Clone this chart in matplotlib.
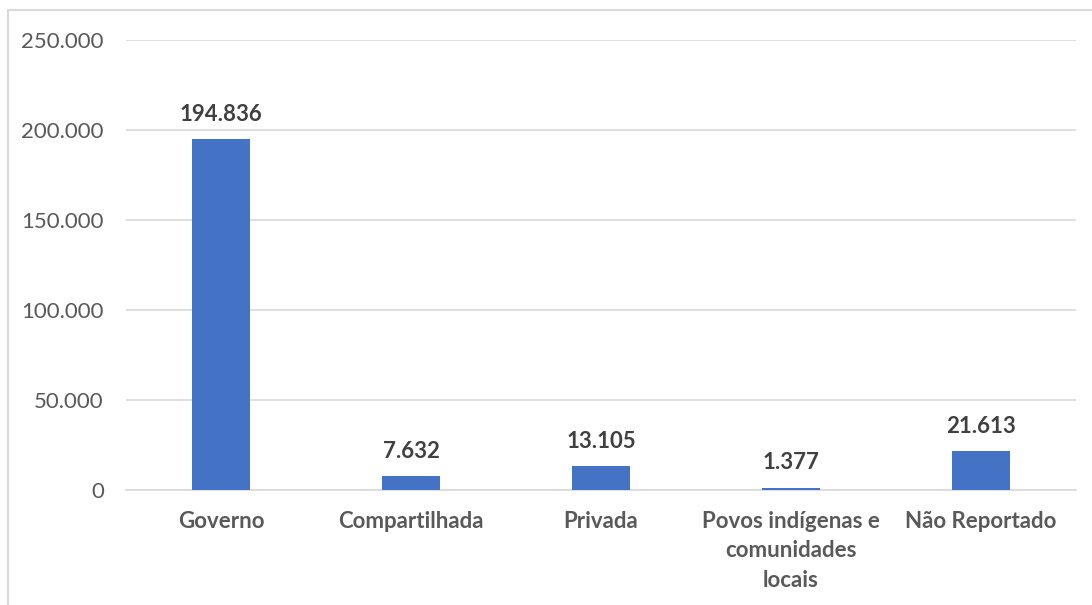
import numpy as np
import matplotlib.pyplot as plt
from matplotlib.patches import Rectangle
from matplotlib.ticker import FuncFormatter

categories = ["Governo", "Compartilhada", "Privada",
              "Povos indígenas e\ncomunidades\nlocais", "Não Reportado"]
values = [194836, 7632, 13105, 1377, 21613]

plt.rcParams['font.family'] = ['Lato', 'DejaVu Sans']

fig = plt.figure(figsize=(10.92, 6.05), dpi=100)
ax = fig.add_axes([126 / 1092, 115 / 605, 950 / 1092, 450 / 605])

# chart border (partially cropped in the reference)
fig.patches.append(Rectangle((8 / 1092, -0.1), 1.2, 1 - 10 / 605 + 0.1,
                             transform=fig.transFigure, fill=False,
                             edgecolor='#D9D9D9', linewidth=1.5))

x = np.arange(len(categories))
ax.bar(x, values, width=0.305, color='#4472C4', zorder=3)

for xi, v in zip(x, values):
    ax.text(xi, v + 8000, "{:,}".format(v).replace(",", "."),
            ha='center', va='bottom', fontsize=16, fontweight='bold',
            color='#404040')

ax.set_xlim(-0.5, len(categories) - 0.5)
ax.set_ylim(0, 250000)
ax.set_yticks(np.arange(0, 250001, 50000))
ax.yaxis.set_major_formatter(FuncFormatter(lambda v, p: "{:,.0f}".format(v).replace(",", ".")))
ax.set_xticks(x)
ax.set_xticklabels(categories, fontweight='bold', fontsize=16, color='#595959',
                   linespacing=1.5, va='top')
ax.tick_params(axis='y', labelsize=16, labelcolor='#595959', length=0, pad=16)
ax.tick_params(axis='x', length=0, pad=15)
ax.grid(axis='y', color='#D9D9D9', linewidth=1.2, zorder=0)
for s in ['top', 'right', 'left']:
    ax.spines[s].set_visible(False)
ax.spines['bottom'].set_color('#D9D9D9')
ax.spines['bottom'].set_linewidth(1.2)

fig.savefig("out.png", dpi=100)
